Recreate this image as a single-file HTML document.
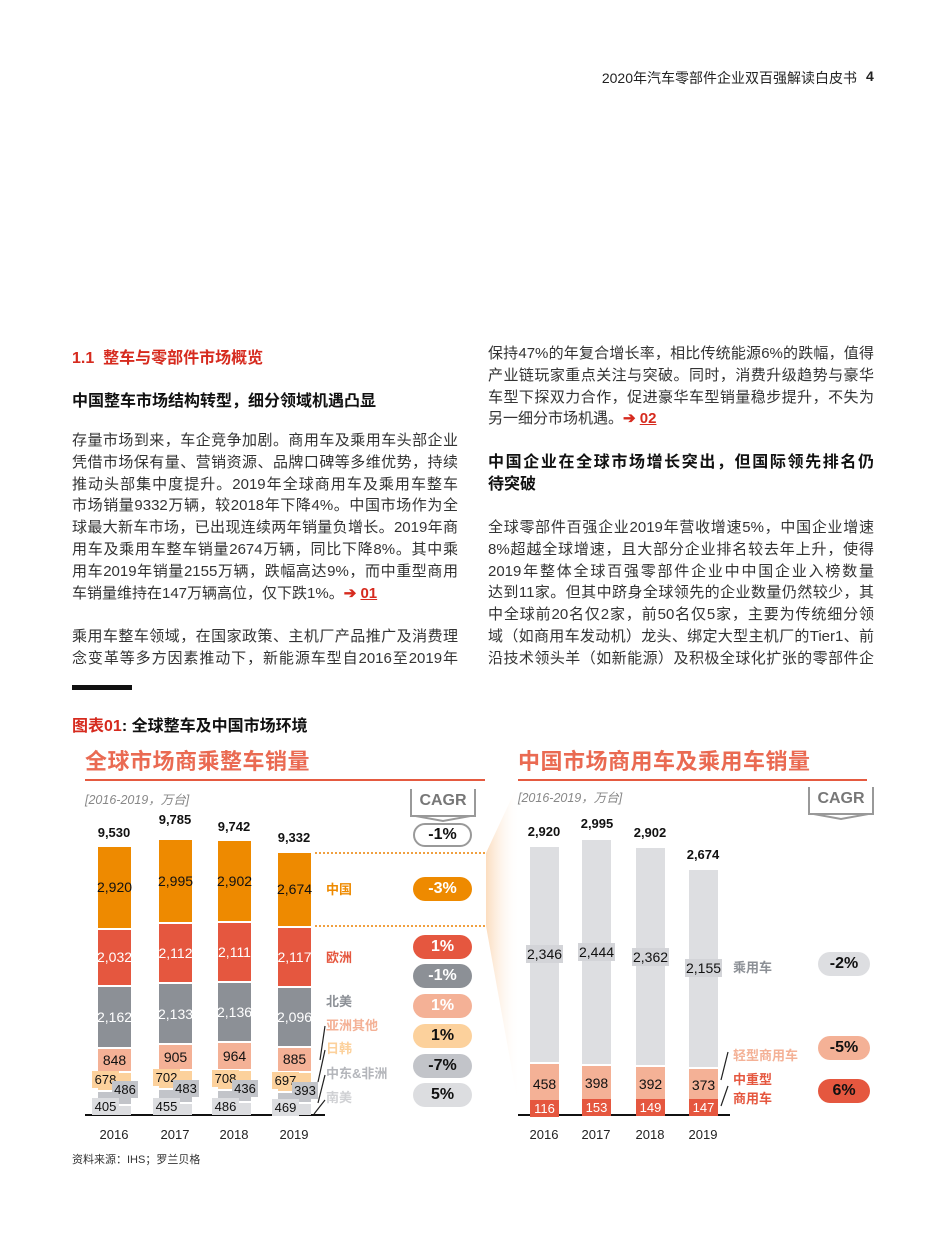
<!DOCTYPE html>
<html><head><meta charset="utf-8">
<style>
*{margin:0;padding:0;box-sizing:border-box}
body{width:945px;height:1252px;background:#fff;position:relative;overflow:hidden;font-family:"Liberation Sans","Noto Sans CJK SC",sans-serif;color:#222}
.a{position:absolute;white-space:nowrap}
.col{position:absolute;width:386px;font-size:15px;color:#333}
.col div{height:21.8px;line-height:21.8px;text-align:justify;text-align-last:justify;white-space:nowrap}
.col div.l{text-align-last:left}
.h{font-weight:bold;color:#111;font-size:16px}
.ref{color:#d62a1e;font-weight:bold}
.ref u{text-decoration:underline}
.bar{position:absolute;display:flex;flex-direction:column-reverse}
.bar div{border-top:2px solid #fff;display:flex;align-items:center;justify-content:center;font-size:14px;color:#111}
.tot{position:absolute;font-size:13px;font-weight:bold;width:60px;text-align:center;color:#111}
.lb{position:absolute;font-size:13px;height:17px;line-height:17px;text-align:center;color:#111}
.leg{position:absolute;font-size:13px;font-weight:bold;white-space:nowrap}
.pill{position:absolute;height:24px;border-radius:12px;font-size:16px;font-weight:bold;text-align:center;line-height:24px}
.yr{position:absolute;font-size:13px;width:50px;text-align:center;color:#222}
.ttl{position:absolute;font-size:22px;font-weight:bold;color:#ea6a52;letter-spacing:0.5px}
.sub{position:absolute;font-size:12.5px;font-style:italic;color:#888}
.cagr{position:absolute;width:66px;height:28px;border:2px solid #999;border-top:none;font-size:16px;font-weight:bold;color:#777;text-align:center;line-height:24px}
</style></head><body>

<div class="a" style="right:88px;top:68px;font-size:14px;color:#222">2020年汽车零部件企业双百强解读白皮书</div>
<div class="a" style="left:866px;top:68px;font-size:14px;font-weight:bold">4</div>

<div class="a" style="left:72px;top:344px;font-size:16px;font-weight:bold;color:#d62a1e">1.1&nbsp; 整车与零部件市场概览</div>
<div class="a h" style="left:72px;top:387px">中国整车市场结构转型，细分领域机遇凸显</div>

<div class="col" style="left:72px;top:430px">
<div>存量市场到来，车企竞争加剧。商用车及乘用车头部企业</div>
<div>凭借市场保有量、营销资源、品牌口碑等多维优势，持续</div>
<div>推动头部集中度提升。2019年全球商用车及乘用车整车</div>
<div>市场销量9332万辆，较2018年下降4%。中国市场作为全</div>
<div>球最大新车市场，已出现连续两年销量负增长。2019年商</div>
<div>用车及乘用车整车销量2674万辆，同比下降8%。其中乘</div>
<div>用车2019年销量2155万辆，跌幅高达9%，而中重型商用</div>
<div class="l">车销量维持在147万辆高位，仅下跌1%。<span class="ref">➔ <u>01</u></span></div>
<div></div>
<div>乘用车整车领域，在国家政策、主机厂产品推广及消费理</div>
<div>念变革等多方因素推动下，新能源车型自2016至2019年</div>
</div>
<div class="a" style="left:72px;top:685px;width:60px;height:5px;background:#111"></div>
<div class="a" style="left:72px;top:712px;font-size:16px;font-weight:bold;color:#111"><span style="color:#d62a1e">图表01</span>: 全球整车及中国市场环境</div>

<div class="col" style="left:488px;top:343px">
<div>保持47%的年复合增长率，相比传统能源6%的跌幅，值得</div>
<div>产业链玩家重点关注与突破。同时，消费升级趋势与豪华</div>
<div>车型下探双力合作，促进豪华车型销量稳步提升，不失为</div>
<div class="l">另一细分市场机遇。<span class="ref">➔ <u>02</u></span></div>
</div>
<div class="col h" style="left:488px;top:452px;font-size:16px;color:#111">
<div style="height:22px;line-height:22px">中国企业在全球市场增长突出，但国际领先排名仍</div>
<div class="l" style="height:22px;line-height:22px">待突破</div>
</div>
<div class="col" style="left:488px;top:517px">
<div>全球零部件百强企业2019年营收增速5%，中国企业增速</div>
<div>8%超越全球增速，且大部分企业排名较去年上升，使得</div>
<div>2019年整体全球百强零部件企业中中国企业入榜数量</div>
<div>达到11家。但其中跻身全球领先的企业数量仍然较少，其</div>
<div>中全球前20名仅2家，前50名仅5家，主要为传统细分领</div>
<div>域（如商用车发动机）龙头、绑定大型主机厂的Tier1、前</div>
<div>沿技术领头羊（如新能源）及积极全球化扩张的零部件企</div>
</div>

<svg class="a" style="left:480px;top:770px" width="45" height="360">
<defs><linearGradient id="g" x1="0" x2="1"><stop offset="0" stop-color="#fbd9b8" stop-opacity="0.9"/><stop offset="1" stop-color="#fff" stop-opacity="0"/></linearGradient></defs>
<polygon points="6,83 6,156 40,345 40,10" fill="url(#g)"/>
</svg>

<!-- LEFT CHART -->
<div class="ttl" style="left:85px;top:744px">全球市场商乘整车销量</div>
<div class="a" style="left:85px;top:779px;width:400px;height:2px;background:#e55a40"></div>
<div class="sub" style="left:85px;top:789px">[2016-2019，万台]</div>
<div class="cagr" style="left:410px;top:789px">CAGR</div>
<svg class="a" style="left:410px;top:815px" width="66" height="8"><polyline points="0,0 33,6 66,0" fill="none" stroke="#999" stroke-width="2"/></svg>

<div class="a" style="left:85px;top:1114px;width:240px;height:2px;background:#111"></div>

<div class="tot" style="left:84px;top:825px">9,530</div>
<div class="tot" style="left:145px;top:812px">9,785</div>
<div class="tot" style="left:204px;top:819px">9,742</div>
<div class="tot" style="left:264px;top:830px">9,332</div>

<div class="bar" style="left:98px;bottom:137px;width:33px">
<div style="height:11.5px;background:#dcdde0"></div><div style="height:13.8px;background:#c2c4c9"></div><div style="height:19.2px;background:#fcd19c"></div>
<div style="height:24px;background:#f4b196">848</div><div style="height:61.3px;background:#8c9096;color:#fff">2,162</div><div style="height:57.6px;background:#e5573f;color:#fff">2,032</div><div style="height:82.8px;background:#ee8a00">2,920</div></div>
<div class="bar" style="left:159px;bottom:137px;width:33px">
<div style="height:12.9px;background:#dcdde0"></div><div style="height:13.7px;background:#c2c4c9"></div><div style="height:19.9px;background:#fcd19c"></div>
<div style="height:25.7px;background:#f4b196">905</div><div style="height:60.5px;background:#8c9096;color:#fff">2,133</div><div style="height:59.9px;background:#e5573f;color:#fff">2,112</div><div style="height:84.9px;background:#ee8a00">2,995</div></div>
<div class="bar" style="left:218px;bottom:137px;width:33px">
<div style="height:13.8px;background:#dcdde0"></div><div style="height:12.4px;background:#c2c4c9"></div><div style="height:20.1px;background:#fcd19c"></div>
<div style="height:27.3px;background:#f4b196">964</div><div style="height:60.6px;background:#8c9096;color:#fff">2,136</div><div style="height:59.8px;background:#e5573f;color:#fff">2,111</div><div style="height:82.3px;background:#ee8a00">2,902</div></div>
<div class="bar" style="left:278px;bottom:137px;width:33px">
<div style="height:13.3px;background:#dcdde0"></div><div style="height:11.1px;background:#c2c4c9"></div><div style="height:19.8px;background:#fcd19c"></div>
<div style="height:25.1px;background:#f4b196">885</div><div style="height:59.4px;background:#8c9096;color:#fff">2,096</div><div style="height:60px;background:#e5573f;color:#fff">2,117</div><div style="height:75.8px;background:#ee8a00">2,674</div></div>

<div class="lb" style="left:92px;top:1071px;width:27px;background:#fcd19c">678</div>
<div class="lb" style="left:112px;top:1081px;width:26px;background:#c2c4c9">486</div>
<div class="lb" style="left:92px;top:1098px;width:27px;background:#dcdde0">405</div>
<div class="lb" style="left:153px;top:1069px;width:27px;background:#fcd19c">702</div>
<div class="lb" style="left:173px;top:1080px;width:26px;background:#c2c4c9">483</div>
<div class="lb" style="left:153px;top:1098px;width:27px;background:#dcdde0">455</div>
<div class="lb" style="left:212px;top:1070px;width:27px;background:#fcd19c">708</div>
<div class="lb" style="left:232px;top:1080px;width:26px;background:#c2c4c9">436</div>
<div class="lb" style="left:212px;top:1098px;width:27px;background:#dcdde0">486</div>
<div class="lb" style="left:272px;top:1072px;width:27px;background:#fcd19c">697</div>
<div class="lb" style="left:292px;top:1082px;width:26px;background:#c2c4c9">393</div>
<div class="lb" style="left:272px;top:1099px;width:27px;background:#dcdde0">469</div>

<svg class="a" style="left:311px;top:1020px" width="20" height="100"><g stroke="#222" stroke-width="1.2"><line x1="14" y1="6" x2="9" y2="40"/><line x1="14" y1="30" x2="7" y2="62"/><line x1="14" y1="55" x2="7" y2="83"/><line x1="14" y1="80" x2="3" y2="94"/></g></svg>

<div class="a" style="left:315px;top:852px;width:170px;border-top:2px dotted #f0a040"></div>
<div class="a" style="left:315px;top:925px;width:170px;border-top:2px dotted #f0a040"></div>

<div class="leg" style="left:326px;top:879px;color:#ee8a00">中国</div>
<div class="leg" style="left:326px;top:947px;color:#e5573f">欧洲</div>
<div class="leg" style="left:326px;top:991px;color:#8c9096">北美</div>
<div class="leg" style="left:326px;top:1015px;color:#f4b196">亚洲其他</div>
<div class="leg" style="left:326px;top:1038px;color:#fcd19c">日韩</div>
<div class="leg" style="left:326px;top:1063px;color:#b4b6bb">中东&amp;非洲</div>
<div class="leg" style="left:326px;top:1087px;color:#d0d1d4">南美</div>

<div class="pill" style="left:413px;top:823px;width:59px;border:2px solid #999;background:#fff;color:#111;line-height:20px">-1%</div>
<div class="pill" style="left:413px;top:877px;width:59px;background:#ee8a00;color:#fff">-3%</div>
<div class="pill" style="left:413px;top:935px;width:59px;background:#e5573f;color:#fff">1%</div>
<div class="pill" style="left:413px;top:964px;width:59px;background:#8c9096;color:#fff">-1%</div>
<div class="pill" style="left:413px;top:994px;width:59px;background:#f4b196;color:#fff">1%</div>
<div class="pill" style="left:413px;top:1024px;width:59px;background:#fcd19c;color:#111">1%</div>
<div class="pill" style="left:413px;top:1054px;width:59px;background:#c2c4c9;color:#111">-7%</div>
<div class="pill" style="left:413px;top:1083px;width:59px;background:#dcdde0;color:#111">5%</div>

<div class="yr" style="left:89px;top:1127px">2016</div>
<div class="yr" style="left:150px;top:1127px">2017</div>
<div class="yr" style="left:209px;top:1127px">2018</div>
<div class="yr" style="left:269px;top:1127px">2019</div>
<div class="a" style="left:72px;top:1151px;font-size:11px;color:#333">资料来源：IHS；罗兰贝格</div>

<!-- RIGHT CHART -->
<div class="ttl" style="left:518px;top:744px">中国市场商用车及乘用车销量</div>
<div class="a" style="left:518px;top:779px;width:349px;height:2px;background:#e55a40"></div>
<div class="sub" style="left:518px;top:787px">[2016-2019，万台]</div>
<div class="cagr" style="left:808px;top:787px">CAGR</div>
<svg class="a" style="left:808px;top:813px" width="66" height="8"><polyline points="0,0 33,6 66,0" fill="none" stroke="#999" stroke-width="2"/></svg>
<div class="a" style="left:518px;top:1114px;width:212px;height:2px;background:#111"></div>

<div class="tot" style="left:514px;top:824px">2,920</div>
<div class="tot" style="left:567px;top:816px">2,995</div>
<div class="tot" style="left:620px;top:825px">2,902</div>
<div class="tot" style="left:673px;top:847px">2,674</div>

<div class="bar" style="left:530px;bottom:137px;width:29px">
<div style="height:10.7px;background:#e5573f"></div><div style="height:42.4px;background:#f4b196">458</div><div style="height:217px;background:#dddee1"><span style="background:#d3d4d8;padding:1px 1px">2,346</span></div></div>
<div class="bar" style="left:582px;bottom:137px;width:29px">
<div style="height:14.2px;background:#e5573f"></div><div style="height:36.8px;background:#f4b196">398</div><div style="height:226.1px;background:#dddee1"><span style="background:#d3d4d8;padding:1px 1px">2,444</span></div></div>
<div class="bar" style="left:636px;bottom:137px;width:29px">
<div style="height:13.8px;background:#e5573f"></div><div style="height:36.3px;background:#f4b196">392</div><div style="height:218.5px;background:#dddee1"><span style="background:#d3d4d8;padding:1px 1px">2,362</span></div></div>
<div class="bar" style="left:689px;bottom:137px;width:29px">
<div style="height:13.6px;background:#e5573f"></div><div style="height:34.5px;background:#f4b196">373</div><div style="height:199.3px;background:#dddee1"><span style="background:#d3d4d8;padding:1px 1px">2,155</span></div></div>

<div class="lb" style="left:530px;top:1100px;width:29px;background:#e5573f;color:#fff">116</div>
<div class="lb" style="left:582px;top:1099px;width:29px;background:#e5573f;color:#fff">153</div>
<div class="lb" style="left:636px;top:1099px;width:29px;background:#e5573f;color:#fff">149</div>
<div class="lb" style="left:689px;top:1099px;width:29px;background:#e5573f;color:#fff">147</div>

<svg class="a" style="left:718px;top:1050px" width="16" height="60"><g stroke="#222" stroke-width="1.2"><line x1="10" y1="2" x2="3" y2="30"/><line x1="10" y1="36" x2="3" y2="56"/></g></svg>

<div class="leg" style="left:733px;top:957px;color:#8c9096">乘用车</div>
<div class="leg" style="left:733px;top:1045px;color:#f4b196">轻型商用车</div>
<div class="leg" style="left:733px;top:1069px;color:#e5573f">中重型</div>
<div class="leg" style="left:733px;top:1088px;color:#e5573f">商用车</div>

<div class="pill" style="left:818px;top:952px;width:52px;background:#dddee1;color:#111">-2%</div>
<div class="pill" style="left:818px;top:1036px;width:52px;background:#f4b196;color:#111">-5%</div>
<div class="pill" style="left:818px;top:1079px;width:52px;background:#e5573f;color:#111">6%</div>

<div class="yr" style="left:519px;top:1127px">2016</div>
<div class="yr" style="left:571px;top:1127px">2017</div>
<div class="yr" style="left:625px;top:1127px">2018</div>
<div class="yr" style="left:678px;top:1127px">2019</div>

</body></html>
